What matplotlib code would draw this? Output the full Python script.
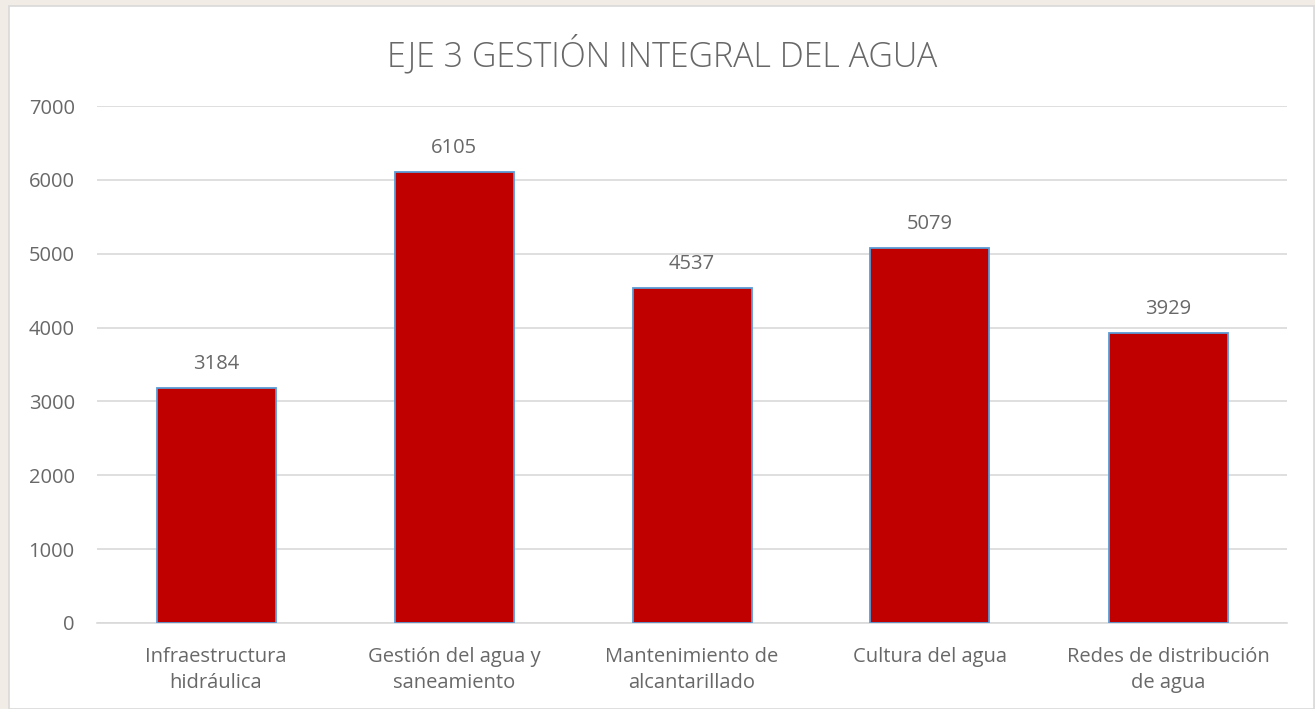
import matplotlib.pyplot as plt
from matplotlib.patches import Rectangle

categories = ["Infraestructura\nhidráulica", "Gestión del agua y\nsaneamiento",
              "Mantenimiento de\nalcantarillado", "Cultura del agua",
              "Redes de distribución\nde agua"]
values = [3184, 6105, 4537, 5079, 3929]
yticks = [0, 1000, 2000, 3000, 4000, 5000, 6000, 7000]

plt.rcParams['font.family'] = ['Open Sans', 'DejaVu Sans']
gray = "#686868"

fig = plt.figure(figsize=(13.15, 7.09), dpi=100)
fig.patch.set_facecolor("#f1ece5")

# white chart box
fig.patches.append(Rectangle((9 / 1315, 0), 1305 / 1315, 1 - 6 / 709, transform=fig.transFigure,
                             facecolor="white", edgecolor="#d9d9d9", linewidth=1.2, zorder=-1))

ax = fig.add_axes([97 / 1315, 1 - 623 / 709, (1287 - 97) / 1315, (623 - 106) / 709])
ax.set_zorder(2)
ax.set_facecolor("none")

x = range(len(categories))
bars = ax.bar(x, values, width=0.5, color="#C00000", edgecolor="#5B9BD5", linewidth=1.3, zorder=3)
for xi, v in zip(x, values):
    ax.text(xi, v + 190, str(v), ha="center", va="bottom", fontsize=14.5, color=gray)

ax.set_ylim(0, 7000)
ax.set_xlim(-0.5, len(categories) - 0.5)
ax.set_yticks(yticks)
ax.set_yticklabels([str(t) for t in yticks])
ax.set_xticks(list(x))
ax.set_xticklabels(categories, linespacing=1.45)
ax.tick_params(axis="y", length=0, pad=16, labelsize=14.5, labelcolor=gray)
ax.tick_params(axis="x", length=0, pad=17, labelsize=14.5, labelcolor=gray)
ax.grid(axis="y", color="#d9d9d9", linewidth=1.2, zorder=0)
for s in ["top", "right", "left"]:
    ax.spines[s].set_visible(False)
ax.spines["bottom"].set_color("#d9d9d9")
ax.spines["bottom"].set_linewidth(1.2)

fig.text(662 / 1315, 1 - 55 / 709, "EJE 3 GESTIÓN INTEGRAL DEL AGUA", ha="center", va="center",
         fontsize=24.5, color=gray, fontweight="light", zorder=3)

fig.savefig("out.png", dpi=100, facecolor=fig.get_facecolor())
